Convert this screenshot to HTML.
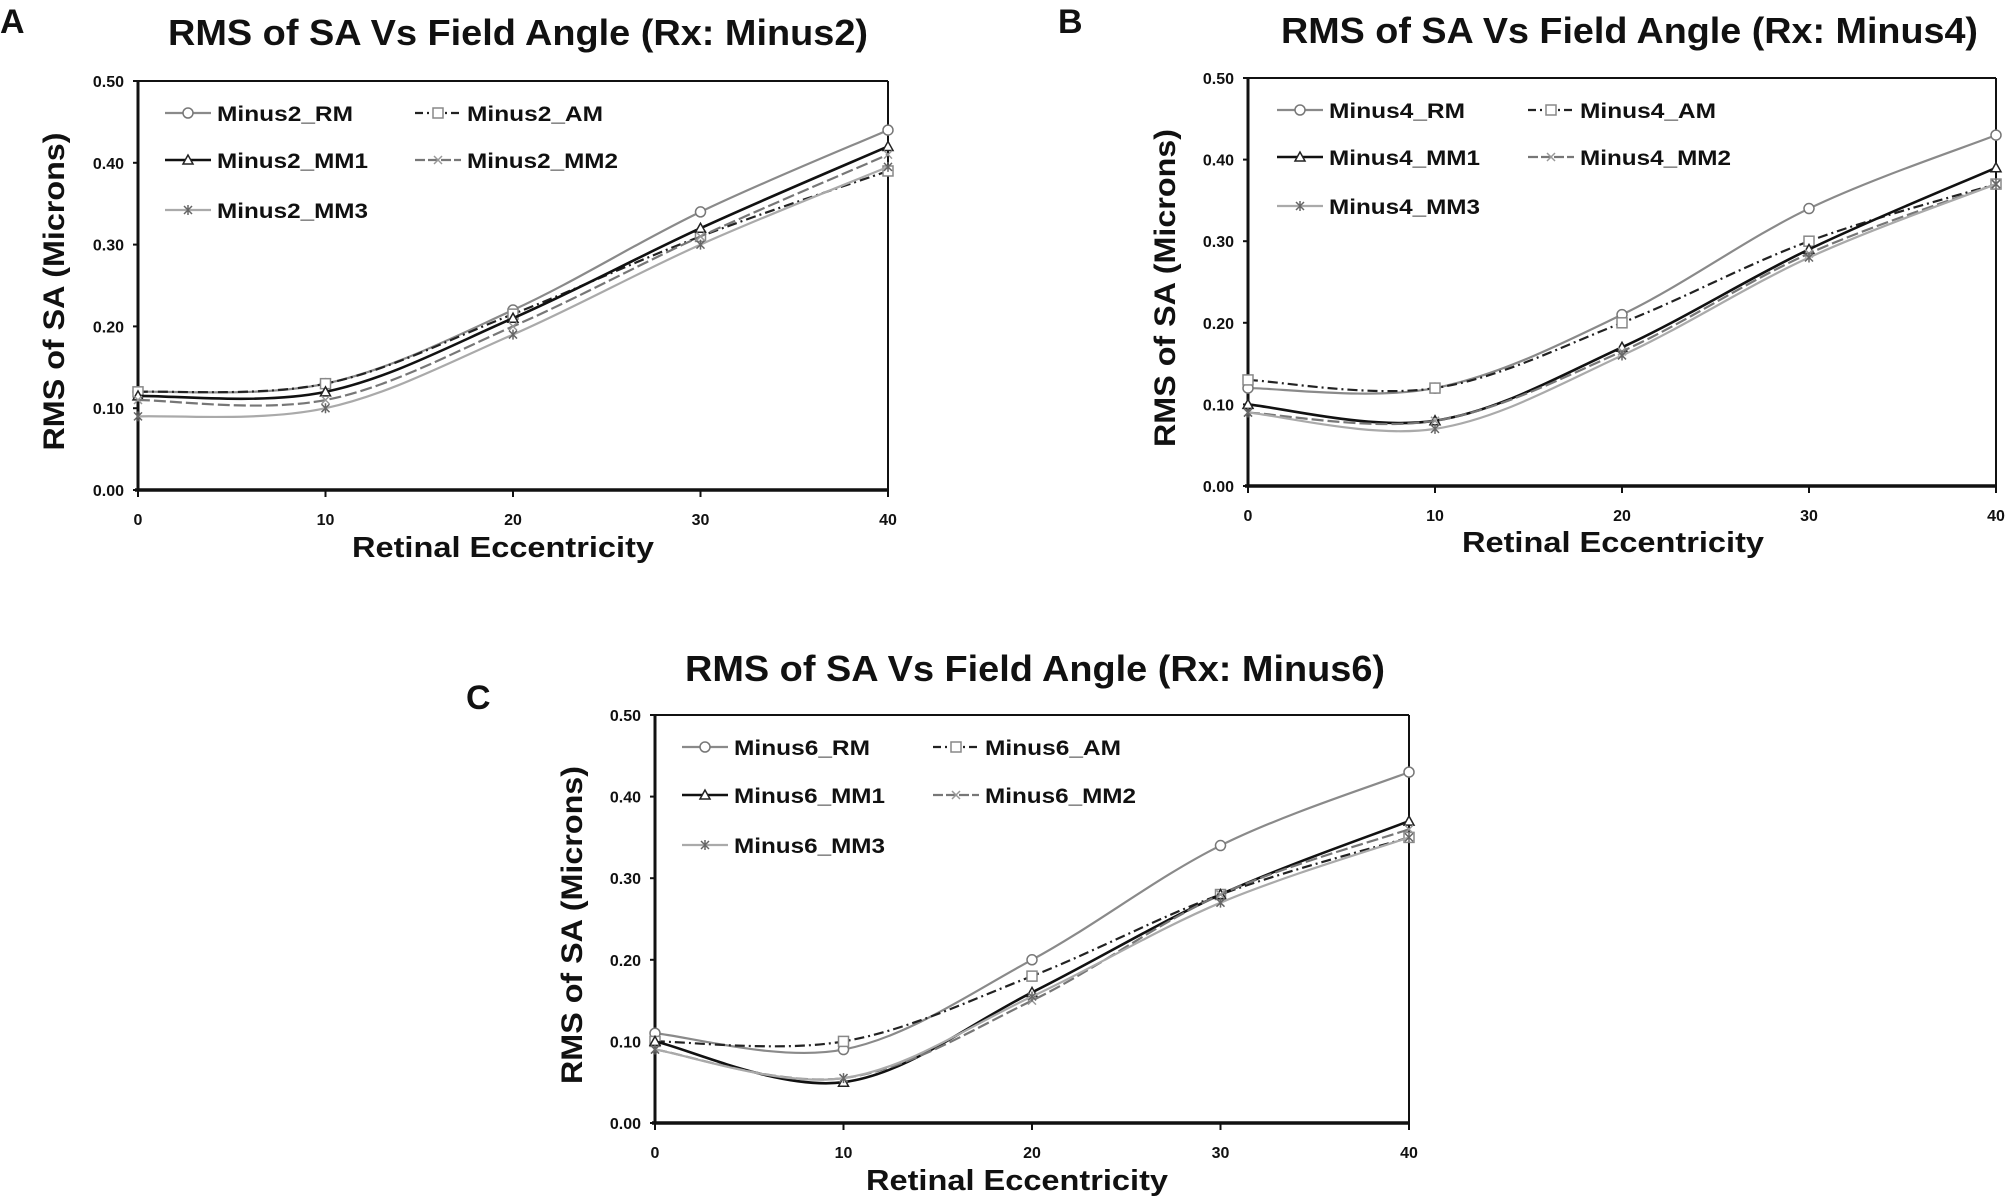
<!DOCTYPE html>
<html><head><meta charset="utf-8"><style>
html,body{margin:0;padding:0;background:#fff;}
svg{display:block;}
text{font-family:"Liberation Sans Narrow","Liberation Sans",sans-serif;font-weight:bold;fill:#111;}
.yt{font-family:"Liberation Sans",sans-serif;}
</style></head><body>
<svg id="fig" width="2012" height="1199" viewBox="0 0 2012 1199" xmlns="http://www.w3.org/2000/svg"></svg>
<script>
const xCats=[0,10,20,30,40];
const yTicks=[0,0.1,0.2,0.3,0.4,0.5];
const yTickLabels=["0.00","0.10","0.20","0.30","0.40","0.50"];
const seriesNames=["RM","AM","MM1","MM2","MM3"];
const aRM=[0.12,0.13,0.22,0.34,0.44];
const aAM=[0.12,0.13,0.215,0.31,0.39];
const aMM1=[0.115,0.12,0.21,0.32,0.42];
const aMM2=[0.11,0.11,0.20,0.31,0.41];
const aMM3=[0.09,0.10,0.19,0.30,0.395];
const bRM=[0.12,0.12,0.21,0.34,0.43];
const bAM=[0.13,0.12,0.20,0.30,0.37];
const bMM1=[0.10,0.08,0.17,0.29,0.39];
const bMM2=[0.09,0.08,0.165,0.285,0.37];
const bMM3=[0.09,0.07,0.16,0.28,0.37];
const cRM=[0.11,0.09,0.20,0.34,0.43];
const cAM=[0.10,0.10,0.18,0.28,0.35];
const cMM1=[0.10,0.05,0.16,0.28,0.37];
const cMM2=[0.09,0.055,0.15,0.28,0.36];
const cMM3=[0.09,0.055,0.155,0.27,0.35];

const NS="http://www.w3.org/2000/svg";
const svg=document.getElementById('fig');
function el(tag,attrs,parent){const e=document.createElementNS(NS,tag);for(const k in attrs)e.setAttribute(k,attrs[k]);(parent||svg).appendChild(e);return e;}
function txt(s,attrs,parent){const e=el('text',attrs,parent);e.textContent=s;return e;}

const styles={
 RM:{stroke:"#8a8a8a",w:2.2,dash:"",marker:"circle"},
 AM:{stroke:"#222",w:2.2,dash:"10,4,2,4",marker:"square"},
 MM1:{stroke:"#111",w:2.6,dash:"",marker:"triangle"},
 MM2:{stroke:"#777",w:2.2,dash:"12,4",marker:"x"},
 MM3:{stroke:"#aaa",w:2.2,dash:"",marker:"star"}
};
function marker(g,type,x,y,col){
 const r=5;
 if(type==="circle")el('circle',{cx:x,cy:y,r:r,fill:"#fff",stroke:"#777","stroke-width":1.5},g);
 else if(type==="square")el('rect',{x:x-r,y:y-r,width:2*r,height:2*r,fill:"#fff",stroke:"#888","stroke-width":1.5},g);
 else if(type==="triangle")el('polygon',{points:`${x},${y-r} ${x-r},${y+r-1} ${x+r},${y+r-1}`,fill:"#fff",stroke:"#222","stroke-width":1.5},g);
 else if(type==="x"){el('path',{d:`M${x-4},${y-4}L${x+4},${y+4}M${x-4},${y+4}L${x+4},${y-4}`,stroke:"#999","stroke-width":1.5},g);}
 else {el('path',{d:`M${x-4},${y-4}L${x+4},${y+4}M${x-4},${y+4}L${x+4},${y-4}M${x},${y-5}L${x},${y+5}`,stroke:"#666","stroke-width":1.5},g);}
}
function smoothPath(pts){
 let d=`M${pts[0][0]},${pts[0][1]}`;
 for(let i=0;i<pts.length-1;i++){
  const p0=pts[Math.max(0,i-1)],p1=pts[i],p2=pts[i+1],p3=pts[Math.min(pts.length-1,i+2)];
  const t=0.17;
  const c1=[p1[0]+(p2[0]-p0[0])*t,p1[1]+(p2[1]-p0[1])*t];
  const c2=[p2[0]-(p3[0]-p1[0])*t,p2[1]-(p3[1]-p1[1])*t];
  d+=`C${c1[0]},${c1[1]} ${c2[0]},${c2[1]} ${p2[0]},${p2[1]}`;
 }
 return d;
}
function chart(cfg){
 const g=el('g',{});
 
 
 const {L,R,T,B}=cfg;
 const xs=v=>L+(v-0)/(40-0)*(R-L);
 const ys=v=>B-(v/0.5)*(B-T);
 const pl=txt(cfg.letter,{x:cfg.letterX,y:cfg.letterY,"font-size":34,"class":"yt"},g);
 
 const tt=txt(cfg.title,{x:cfg.titleX,y:cfg.titleY,"font-size":36,textLength:cfg.titleW,lengthAdjust:"spacingAndGlyphs"},g);
 
 el('line',{x1:L,y1:T,x2:R,y2:T,stroke:"#111","stroke-width":2},g);
 el('line',{x1:R,y1:T,x2:R,y2:B,stroke:"#111","stroke-width":2},g);
 const ya=el('line',{x1:L,y1:T,x2:L,y2:B,stroke:"#111","stroke-width":3},g);
 
 const xa=el('line',{x1:L-3,y1:B,x2:R,y2:B,stroke:"#111","stroke-width":3.5},g);
 
 yTicks.forEach((v,i)=>{
  el('line',{x1:L-5,y1:ys(v),x2:L,y2:ys(v),stroke:"#111","stroke-width":2},g);
  const t=txt(yTickLabels[i],{x:L-14,y:ys(v)+6,"font-size":16,"text-anchor":"end"},g);
  
 });
 xCats.forEach(v=>{
  el('line',{x1:xs(v),y1:B,x2:xs(v),y2:B+7,stroke:"#111","stroke-width":2},g);
  const t=txt(String(v),{x:xs(v),y:B+35,"font-size":16,"text-anchor":"middle"},g);
  
 });
 const xt=txt("Retinal Eccentricity",{x:cfg.xtX,y:cfg.xtY,"font-size":29,textLength:302,lengthAdjust:"spacingAndGlyphs"},g);
 
 const cy=(T+B)/2+6;
 const yt=txt("RMS of SA (Microns)",{x:0,y:0,"font-size":30,"class":"yt","text-anchor":"middle",textLength:318,lengthAdjust:"spacingAndGlyphs",transform:`translate(${cfg.ytX},${cy}) rotate(-90)`},g);
 
 cfg.data.forEach((vals,si)=>{
  const name=seriesNames[si];const st=styles[name];
  const sg=el('g',{},g);
  
  
  const pts=vals.map((v,i)=>[xs(xCats[i]),ys(v)]);
  const p=el('path',{d:smoothPath(pts),fill:"none",stroke:st.stroke,"stroke-width":st.w,"stroke-dasharray":st.dash},sg);
  
  
  pts.forEach(q=>marker(sg,st.marker,q[0],q[1]));
 });
 const lg=el('g',{},g);
 
 
 seriesNames.forEach((name,i)=>{
  const col=i%2,row=Math.floor(i/2);
  const lx=col?cfg.leg2X:cfg.leg1X, ly=cfg.legY[row];
  const st=styles[name];
  const eg=el('g',{},lg);
  
  
  el('line',{x1:lx,y1:ly,x2:lx+46,y2:ly,stroke:st.stroke,"stroke-width":st.w,"stroke-dasharray":name==="AM"?"8,4,2,4":(name==="MM2"?"10,3":"")},eg);
  marker(eg,st.marker,lx+23,ly);
  txt(cfg.prefix+"_"+name,{x:lx+52,y:ly+8,"font-size":21,textLength:(name==="MM1"||name==="MM2"||name==="MM3")?151:136,lengthAdjust:"spacingAndGlyphs"},eg);
 });
}
chart({id:"a",letter:"A",letterX:0,letterY:33,title:"RMS of SA Vs Field Angle (Rx: Minus2)",titleX:168,titleY:45,titleW:700,
 L:138,R:888,T:81,B:490,xtX:352,xtY:557,ytX:64,prefix:"Minus2",leg1X:165,leg2X:415,legY:[113,160,210],
 data:[aRM,aAM,aMM1,aMM2,aMM3]});
chart({id:"b",letter:"B",letterX:1058,letterY:33,title:"RMS of SA Vs Field Angle (Rx: Minus4)",titleX:1281,titleY:43,titleW:697,
 L:1248,R:1996,T:78,B:486,xtX:1462,xtY:552,ytX:1175,prefix:"Minus4",leg1X:1277,leg2X:1528,legY:[110,157,206],
 data:[bRM,bAM,bMM1,bMM2,bMM3]});
chart({id:"c",letter:"C",letterX:466,letterY:709,title:"RMS of SA Vs Field Angle (Rx: Minus6)",titleX:685,titleY:681,titleW:700,
 L:655,R:1409,T:715,B:1123,xtX:866,xtY:1190,ytX:582,prefix:"Minus6",leg1X:682,leg2X:933,legY:[747,795,845],
 data:[cRM,cAM,cMM1,cMM2,cMM3]});
</script>
</body></html>
